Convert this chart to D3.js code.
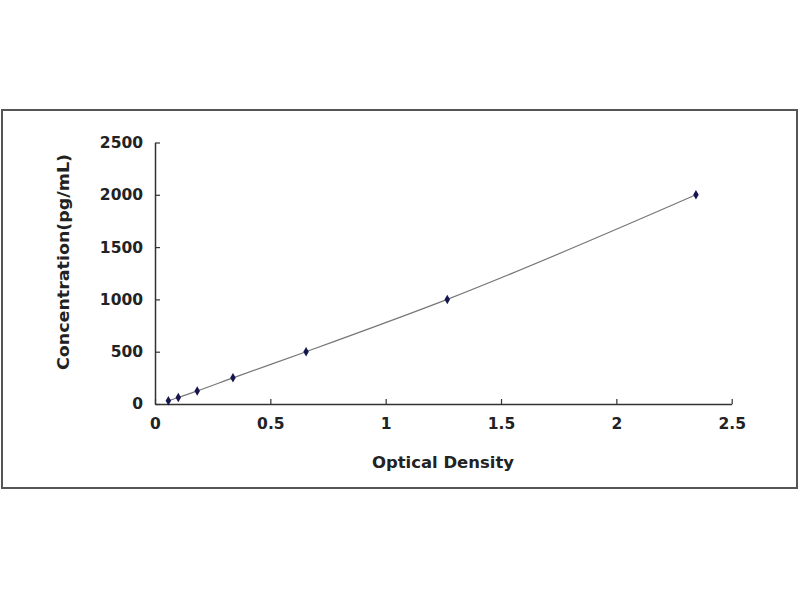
<!DOCTYPE html>
<html>
<head>
<meta charset="utf-8">
<script src="https://cdn.jsdelivr.net/npm/d3@7"></script>
<style>
  body { margin: 0; background: #fff; }
  text { font-family: "DejaVu Sans", Verdana, sans-serif; fill: #222; }
</style>
</head>
<body>
<script>
'use strict';

// standard curve readings
var opticalDensity = [0.058, 0.101, 0.183, 0.338, 0.655, 1.267, 2.345];
var concentration = [31.25, 62.5, 125, 250, 500, 1000, 2000];
var xTicks = [0, 0.5, 1, 1.5, 2, 2.5];
var yTicks = [0, 500, 1000, 1500, 2000, 2500];

var chart = {};
chart.width = 800;
chart.height = 600;
chart.left = 155;
chart.right = 731.7;
chart.top = 142.5;
chart.bottom = 404;

chart.run = function(){
    var svg = d3.select("body").append("svg")
        .attr("width", chart.width)
        .attr("height", chart.height);

    // outer frame
    svg.append("rect")
        .attr("x", 2).attr("y", 110)
        .attr("width", 795).attr("height", 378)
        .attr("fill", "#fff")
        .attr("stroke", "#555")
        .attr("stroke-width", 2);

    var x = d3.scaleLinear().domain([0, 2.5]).range([chart.left, chart.right]);
    var y = d3.scaleLinear().domain([0, 2500]).range([chart.bottom, chart.top]);

    var xAxis = svg.append("g")
        .attr("transform", "translate(0," + chart.bottom + ")")
        .call(d3.axisBottom(x).tickValues(xTicks).tickSize(-5).tickSizeOuter(0)
            .tickPadding(14).tickFormat(d3.format("")));
    var yAxis = svg.append("g")
        .attr("transform", "translate(" + chart.left + ",0)")
        .call(d3.axisLeft(y).tickValues(yTicks).tickSize(-5).tickSizeOuter(0)
            .tickPadding(12).tickFormat(d3.format("")));

    [xAxis, yAxis].forEach(function(g){
        g.select(".domain").attr("stroke", "#333").attr("stroke-width", 1.5);
        g.selectAll(".tick line").attr("stroke", "#333").attr("stroke-width", 1.2);
        g.selectAll(".tick text")
            .attr("fill", "#222")
            .style("font-family", "'DejaVu Sans', Verdana, sans-serif")
            .style("font-size", "15.5px")
            .style("font-weight", "bold");
    });

    var points = opticalDensity.map(function(d, i){ return [d, concentration[i]]; });

    var line = d3.line()
        .x(function(d){ return x(d[0]); })
        .y(function(d){ return y(d[1]); })
        .curve(d3.curveMonotoneX);

    svg.append("path")
        .datum(points)
        .attr("d", line)
        .attr("fill", "none")
        .attr("stroke", "#777")
        .attr("stroke-width", 1.2);

    svg.selectAll(".marker")
        .data(points)
        .enter()
            .append("path")
            .classed("marker", true)
            .attr("d", d3.symbol().type(d3.symbolDiamond).size(26))
            .attr("transform", function(d){
                return "translate(" + x(d[0]) + "," + y(d[1]) + ")";
            })
            .attr("fill", "#15154f");

    svg.append("text")
        .attr("x", 443).attr("y", 468)
        .attr("text-anchor", "middle")
        .attr("textLength", 142)
        .attr("lengthAdjust", "spacingAndGlyphs")
        .style("font-size", "15px")
        .style("font-weight", "bold")
        .text("Optical Density");

    svg.append("text")
        .attr("transform", "translate(69,262) rotate(-90)")
        .attr("text-anchor", "middle")
        .attr("textLength", 216)
        .attr("lengthAdjust", "spacingAndGlyphs")
        .style("font-size", "15px")
        .style("font-weight", "bold")
        .text("Concentration(pg/mL)");
};

chart.run();
</script>
</body>
</html>
